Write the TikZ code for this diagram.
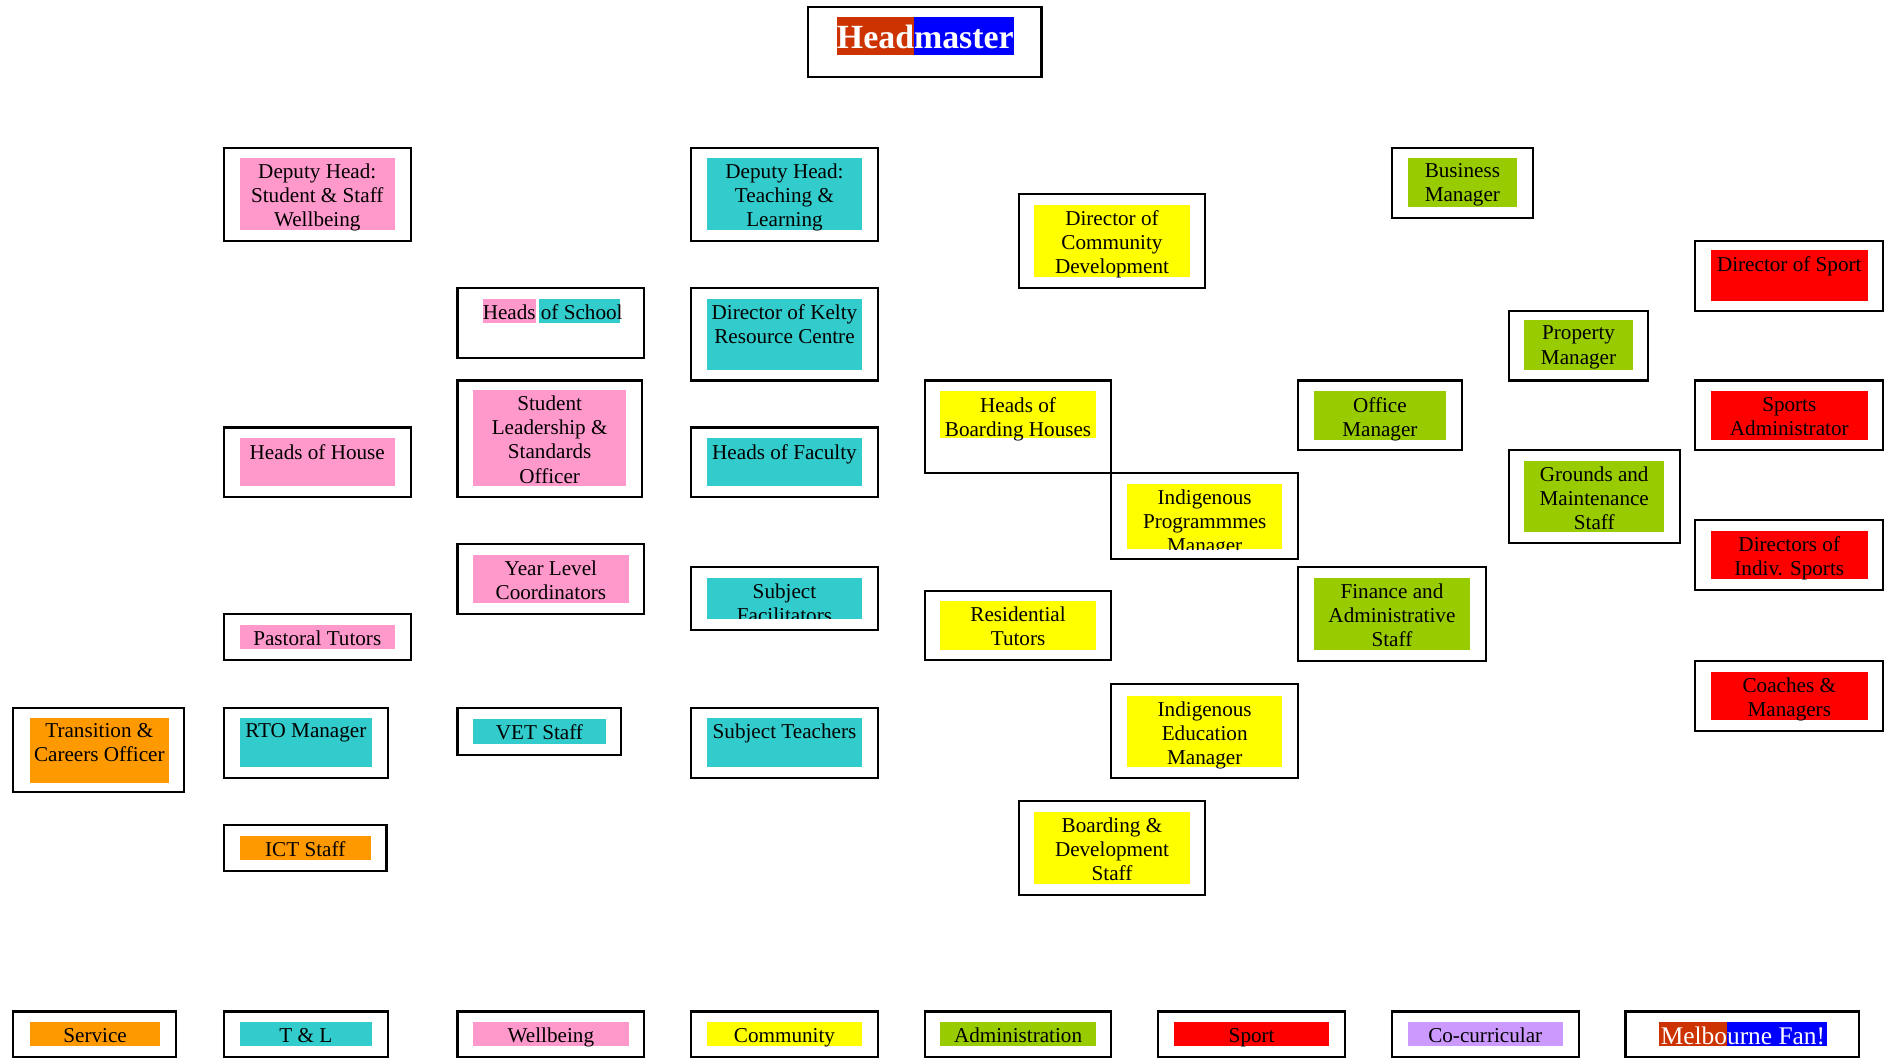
\documentclass[tikz,border=0pt]{standalone}
\usepackage{fontspec}
\setmainfont{Liberation Serif}
\usepackage{xcolor}
\usepackage{tikz}

\definecolor{wellbeing}{HTML}{FF99CC}
\definecolor{teaching}{HTML}{33CCCC}
\definecolor{community}{HTML}{FFFF00}
\definecolor{admin}{HTML}{99CC00}
\definecolor{sport}{HTML}{FF0000}
\definecolor{service}{HTML}{FF9900}
\definecolor{cocurric}{HTML}{CC99FF}
\definecolor{demonred}{HTML}{CC3300}
\definecolor{demonblue}{HTML}{0000FF}

\tikzset{
    unit/.style={draw, line width=1pt},
    role/.style={anchor=north, align=center, inner sep=0pt, yshift=-0.03cm, font=\fontsize{10}{11.4}\selectfont},
}

\begin{document}
\begin{tikzpicture}[x=0.02cm, y=-0.02cm]
                \useasboundingbox (0,0) rectangle (1568,880);

                % top
                \draw[unit] (671,6) rectangle (865,64);
                \fill[demonred] (695,14) rectangle (759,46);
                \fill[demonblue] (759,14) rectangle (842,46);
                \node[text=white, inner sep=0pt, font=\fontsize{16}{18}\selectfont\bfseries] (head) at (768.5,31) {Headmaster};

                % wellbeing
                \draw[unit] (186,123) rectangle (341,200);
                \fill[wellbeing] (199,131) rectangle (328,191);
                \node[role] (dhsw) at (263.5,134) {Deputy Head:\\Student \& Staff\\Wellbeing};
                \draw[unit] (380,316) rectangle (533,413);
                \fill[wellbeing] (393,324) rectangle (520,404);
                \node[role] (sls) at (456.5,327) {Student\\Leadership \&\\Standards\\Officer};
                \draw[unit] (186,355) rectangle (341,413);
                \fill[wellbeing] (199,364) rectangle (328,404);
                \node[role] (hoh) at (263.5,367) {Heads of House};
                \draw[unit] (380,452) rectangle (535,510);
                \fill[wellbeing] (393,461) rectangle (522,501);
                \node[role] (ylc) at (457.5,464) {Year Level\\Coordinators};
                \draw[unit] (186,510) rectangle (341,548);
                \fill[wellbeing] (199,519) rectangle (328,539);
                \node[role] (pt) at (263.5,522) {Pastoral Tutors};

                % heads of school
                \draw[unit] (380,239) rectangle (535,297);
                \fill[wellbeing] (401,248) rectangle (445,268);
                \fill[teaching] (448,248) rectangle (515,268);
                \node[role] (hos) at (459,251) {Heads of School};

                % teaching and learning
                \draw[unit] (574,123) rectangle (729,200);
                \fill[teaching] (587,131) rectangle (716,191);
                \node[role] (dhtl) at (651.5,134) {Deputy Head:\\Teaching \&\\Learning};
                \draw[unit] (574,239) rectangle (729,316);
                \fill[teaching] (587,248) rectangle (716,307);
                \node[role] (dk) at (651.5,251) {Director of Kelty\\Resource Centre};
                \draw[unit] (574,355) rectangle (729,413);
                \fill[teaching] (587,364) rectangle (716,404);
                \node[role] (hof) at (651.5,367) {Heads of Faculty};
                \draw[unit] (574,471) rectangle (729,523);
                \begin{scope}
                    \clip (587,480) rectangle (716,514);
                    \fill[teaching] (587,480) rectangle (716,514);
                    \node[role] (sf) at (651.5,483) {Subject\\Facilitators};
                \end{scope}
                \draw[unit] (574,588) rectangle (729,646);
                \fill[teaching] (587,596) rectangle (716,637);
                \node[role] (st) at (651.5,599) {Subject Teachers};
                \draw[unit] (186,588) rectangle (322,646);
                \fill[teaching] (199,596) rectangle (309,637);
                \node[role] (rto) at (254,599) {RTO Manager};
                \draw[unit] (380,588) rectangle (516,627);
                \fill[teaching] (393,597) rectangle (503,618);
                \node[role] (vet) at (448,600) {VET Staff};

                % service
                \draw[unit] (11,588) rectangle (153,658);
                \fill[service] (25,596) rectangle (140,650);
                \node[role] (tco) at (82.5,599) {Transition \&\\Careers Officer};
                \draw[unit] (186,685) rectangle (321,723);
                \fill[service] (199,694) rectangle (308,714);
                \node[role] (ict) at (253.5,697) {ICT Staff};

                % community
                \draw[unit] (846,161) rectangle (1001,239);
                \fill[community] (859,170) rectangle (988,230);
                \node[role] (dcd) at (923.5,173) {Director of\\Community\\Development};
                \draw[unit] (768,316) rectangle (923,393);
                \fill[community] (781,325) rectangle (910,364);
                \node[role] (hbh) at (845.5,328) {Heads of\\Boarding Houses};
                \draw[unit] (923,393) rectangle (1078,464);
                \begin{scope}
                    \clip (936,402) rectangle (1065,456);
                    \fill[community] (936,402) rectangle (1065,456);
                    \node[role] (ipm) at (1000.5,405) {Indigenous\\Programmmes\\Manager};
                \end{scope}
                \draw[unit] (768,491) rectangle (923,548);
                \fill[community] (781,499) rectangle (910,540);
                \node[role] (rt) at (845.5,502) {Residential\\Tutors};
                \draw[unit] (923,568) rectangle (1078,646);
                \fill[community] (936,578) rectangle (1065,637);
                \node[role] (iem) at (1000.5,581) {Indigenous\\Education\\Manager};
                \draw[unit] (846,665) rectangle (1001,743);
                \fill[community] (859,674) rectangle (988,734);
                \node[role] (bds) at (923.5,677) {Boarding \&\\Development\\Staff};

                % administration
                \draw[unit] (1156,123) rectangle (1273,181);
                \fill[admin] (1169,131) rectangle (1260,172);
                \node[role] (bm) at (1214.5,134) {Business\\Manager};
                \draw[unit] (1253,258) rectangle (1369,316);
                \fill[admin] (1266,266) rectangle (1356,307);
                \node[role] (pm) at (1311,269) {Property\\Manager};
                \draw[unit] (1078,316) rectangle (1214,374);
                \fill[admin] (1091,325) rectangle (1201,365);
                \node[role] (om) at (1146,328) {Office\\Manager};
                \draw[unit] (1253,374) rectangle (1395,451);
                \fill[admin] (1266,383) rectangle (1382,442);
                \node[role] (gms) at (1324,386) {Grounds and\\Maintenance\\Staff};
                \draw[unit] (1078,471) rectangle (1234,549);
                \fill[admin] (1091,480) rectangle (1221,540);
                \node[role] (fas) at (1156,483) {Finance and\\Administrative\\Staff};

                % sport
                \draw[unit] (1408,200) rectangle (1564,258);
                \fill[sport] (1421,208) rectangle (1551,250);
                \node[role] (ds) at (1486,211) {Director of Sport};
                \draw[unit] (1408,316) rectangle (1564,374);
                \fill[sport] (1421,325) rectangle (1551,365);
                \node[role] (sa) at (1486,328) {Sports\\Administrator};
                \draw[unit] (1408,432) rectangle (1564,490);
                \fill[sport] (1421,441) rectangle (1551,481);
                \node[role] (dis) at (1486,444) {Directors of\\Indiv. Sports};
                \draw[unit] (1408,549) rectangle (1564,607);
                \fill[sport] (1421,558) rectangle (1551,598);
                \node[role] (cm) at (1486,561) {Coaches \&\\Managers};

                % key
                \draw[unit] (11,840) rectangle (146,878);
                \fill[service] (25,849) rectangle (133,869);
                \node[role] (ksvc) at (79,852) {Service};
                \draw[unit] (186,840) rectangle (322,878);
                \fill[teaching] (199,849) rectangle (309,869);
                \node[role] (ktl) at (254,852) {T \& L};
                \draw[unit] (380,840) rectangle (535,878);
                \fill[wellbeing] (393,849) rectangle (522,869);
                \node[role] (kwb) at (457.5,852) {Wellbeing};
                \draw[unit] (574,840) rectangle (729,878);
                \fill[community] (587,849) rectangle (716,869);
                \node[role] (kcom) at (651.5,852) {Community};
                \draw[unit] (768,840) rectangle (923,878);
                \fill[admin] (781,849) rectangle (910,869);
                \node[role] (kadm) at (845.5,852) {Administration};
                \draw[unit] (962,840) rectangle (1117,878);
                \fill[sport] (975,849) rectangle (1104,869);
                \node[role] (kspt) at (1039.5,852) {Sport};
                \draw[unit] (1156,840) rectangle (1311,878);
                \fill[cocurric] (1169,849) rectangle (1298,869);
                \node[role] (kcc) at (1233.5,852) {Co-curricular};
                \draw[unit] (1350,840) rectangle (1544,878);
                \fill[demonred] (1378,849) rectangle (1434,869);
                \fill[demonblue] (1434,849) rectangle (1517,869);
                \node[text=white, inner sep=0pt, font=\fontsize{12}{14}\selectfont] (kmf) at (1447.5,860) {Melbourne Fan!};
            \end{tikzpicture}
\end{document}
